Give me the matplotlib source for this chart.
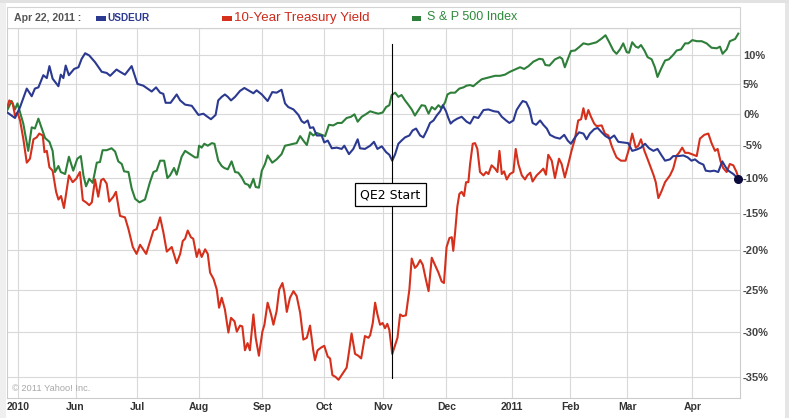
"""
USDEUR vs 10-Year Treasury Yield vs S&P 500, Apr 2010 - Apr 2011
(percent change, Yahoo-style chart with the QE2 start marked).
"""

import matplotlib
matplotlib.use("Agg")
import matplotlib.pyplot as plt
from matplotlib.patches import Rectangle
import numpy as np

# x is in trading days since the first point (Yahoo spaces by session)
month_starts = [3.8, 23.5, 44.7, 66.1, 87.8, 109.1, 129.4, 151.1, 173.6, 193.8, 213.4, 235.8]
month_labels = ["2010", "Jun", "Jul", "Aug", "Sep", "Oct", "Nov", "Dec", "2011", "Feb", "Mar", "Apr"]
pct_ticks = [10, 5, 0, -5, -10, -15, -20, -25, -30, -35]

usdeur_days = [
    0.0, 2.65, 4.4, 6.7, 8.4, 9.5, 10.7, 12.4, 13.6, 14.5,
    15.6, 17.6, 18.4, 19.3, 20.1, 21.2, 23.0, 24.5, 25.6, 26.8,
    28.2, 30.2, 32.5, 34.2, 35.4, 37.6, 38.8, 40.5, 42.8, 44.8,
    46.8, 48.5, 49.7, 51.2, 52.6, 53.7, 54.5, 56.2, 58.3, 59.5,
    61.2, 63.5, 65.8, 67.5, 68.6, 70.1, 71.7, 72.6, 73.8, 74.9,
    75.9, 77.0, 78.4, 80.1, 81.6, 83.0, 84.7, 85.8, 87.6, 89.6,
    91.2, 92.7, 94.4, 95.6, 96.7, 98.5, 100.2, 101.3, 102.2, 103.4,
    104.2, 105.3, 106.5, 108.2, 109.1, 110.3, 111.7, 113.4, 115.1, 116.0,
    117.6, 119.1, 120.6, 121.4, 123.1,
    124.9, 126.2, 127.4, 128.9, 130.4, 131.5, 132.5, 133.5, 134.6, 135.7,
    136.9, 138.4, 139.5, 140.7, 142.1, 143.2, 144.4, 145.5, 146.7, 147.8,
    149.0, 149.9, 151.0, 151.8, 152.6, 153.5, 154.9, 156.4, 158.1, 159.3,
    160.6, 162.1, 163.9, 165.6, 167.5, 169.0, 170.2, 171.7, 172.8, 174.2,
    175.3, 176.5, 177.4, 178.6, 179.7, 180.8, 182.0, 183.4, 184.5, 185.7,
    186.8,
    188.5, 190.2, 191.7, 192.9, 194.0, 195.4, 196.8, 198.3, 199.4, 200.5,
    202.0, 203.2, 204.6, 205.9, 207.4, 208.9, 210.3, 212.0, 213.7, 215.1,
    216.6, 218.1, 219.5, 220.9, 222.4, 223.8, 225.2, 226.4, 228.1, 229.2,
    231.0, 232.7, 234.2, 235.5, 236.7, 238.1, 239.6, 240.4, 241.9, 243.3,
    244.7, 246.1, 247.3, 248.2, 249.9, 251.6,
]
usdeur_pct = [
    0.2, -0.7, 1.1, 4.2, 2.9, 4.2, 4.4, 6.5, 6.0, 8.1,
    5.9, 4.6, 6.6, 6.0, 8.2, 6.5, 7.6, 7.9, 9.4, 10.4,
    10.0, 8.8, 7.1, 6.9, 6.4, 7.5, 7.1, 6.6, 8.1, 5.0,
    4.7, 4.1, 3.7, 4.4, 3.5, 3.3, 1.8, 1.8, 3.2, 2.2,
    1.5, 1.3, -0.2, 0.0, -0.4, -0.9, -0.2, 2.2, 2.8, 3.2,
    2.8, 2.2, 2.8, 3.8, 4.3, 3.9, 3.4, 3.9, 3.2, 2.1,
    3.6, 3.5, 4.0, 1.7, 1.1, 0.7, -0.2, -1.2, -1.5, -1.1,
    -2.3, -2.2, -3.5, -3.5, -4.6, -4.3, -5.5, -5.4, -5.6, -5.1,
    -6.4, -5.6, -4.1, -5.5, -5.6,
    -5.1, -4.5, -5.6, -5.2, -6.1, -6.5, -7.4, -6.4, -4.8, -4.3,
    -3.8, -3.5, -2.7, -2.4, -3.5, -3.8, -2.7, -1.5, -1.1, -0.3,
    0.4, 1.4, 0.4, -0.7, -1.6, -1.2, -0.8, -0.5, -1.3, -1.6,
    -0.5, -0.7, 0.6, 0.7, 0.4, 0.3, -0.5, -1.1, -1.5, -1.1,
    0.6, 1.5, 2.1, 1.9, 0.8, -1.5, -1.8, -1.1, -1.8, -2.4,
    -3.4,
    -3.8, -4.0, -3.4, -4.3, -4.8, -3.8, -3.0, -3.2, -4.1, -3.2,
    -2.5, -2.3, -3.0, -3.6, -4.0, -3.5, -4.5, -4.6, -4.7, -5.9,
    -5.7, -5.4, -4.8, -5.5, -5.9, -5.6, -6.6, -7.4, -7.2, -6.7,
    -6.7, -6.6, -6.9, -7.4, -7.2, -7.7, -8.0, -8.9, -9.0, -8.9,
    -9.1, -7.5, -8.4, -8.9, -9.4, -10.1,
]

treasury_days = [
    0.0, 0.7, 1.85, 2.65, 3.5, 4.4, 5.5, 6.7, 7.8, 9.0,
    10.1, 11.0, 12.2, 12.8, 13.6, 14.5, 15.6, 16.8, 17.6, 18.5,
    19.5, 21.2, 22.5, 23.7, 25.0, 26.0, 27.1, 28.2, 29.1, 30.2,
    31.3, 32.3, 33.1, 34.2, 35.1, 36.5, 37.4, 38.8, 40.5, 41.7,
    43.2, 44.5, 45.7, 47.8, 49.4, 50.3, 51.4, 52.6, 53.7, 54.9,
    56.6, 58.3, 59.5, 60.4,
    61.2, 62.1, 63.2, 64.0, 65.2, 66.0, 66.9, 68.1, 69.0, 69.8,
    71.0, 72.1, 72.9, 73.8, 74.9, 76.1, 77.0, 78.2, 79.0, 80.1,
    80.9, 81.8, 82.7, 83.5, 84.7, 85.5, 86.6, 87.8, 88.5, 89.6,
    90.8, 91.6, 92.7, 93.6, 94.7, 95.4, 96.2, 97.3, 98.5, 99.6,
    100.8, 101.9, 103.1, 104.2, 105.3, 105.9, 106.8, 108.0, 109.1, 110.3,
    111.1, 111.9, 113.0, 114.0, 115.1, 116.8, 117.6, 118.5, 119.7, 120.8,
    121.8, 123.1, 124.3,
    124.9, 125.8, 126.6, 127.4, 128.3, 129.2, 130.0, 130.8, 131.5, 132.5,
    133.5, 134.3, 135.2, 136.1, 137.2, 138.4, 139.2, 140.3, 141.1, 142.1,
    143.0, 144.1, 145.0, 146.1, 147.2, 148.4, 149.5, 150.3, 151.2, 152.2,
    153.0, 153.5, 154.1, 154.9, 155.6, 156.4, 157.2, 157.9, 158.7, 159.3,
    160.2, 161.0, 161.8, 162.7, 163.9, 164.8, 165.6, 166.7, 167.9, 168.7,
    169.4, 170.2, 171.0, 171.9, 173.0, 174.2, 175.0, 175.9, 177.1, 178.2,
    179.0, 180.0, 180.8, 182.2, 183.4, 184.5, 185.4, 186.2, 187.4,
    188.5, 189.9, 190.8, 191.9, 193.1, 194.2, 195.4, 196.5, 197.5, 198.3,
    199.1, 200.0, 200.9, 202.0, 202.8, 204.6, 205.7, 206.9, 208.0, 208.9,
    209.7, 211.2, 212.8, 214.0, 215.1, 216.3, 217.2, 218.1, 219.3, 220.6,
    222.4, 223.2, 224.1, 225.2, 226.4, 228.1, 229.2, 230.4, 231.2, 232.3,
    233.3, 234.4, 236.1, 237.3, 238.4, 239.9, 241.3, 242.4, 243.6, 244.5,
    245.5, 246.4, 247.6, 248.7, 249.9, 251.0, 251.6,
]
treasury_pct = [
    1.1, 2.2, 1.7, -0.3, 0.2, -1.1, -4.0, -7.7, -7.1, -4.1,
    -3.8, -3.2, -3.5, -6.1, -5.9, -8.4, -8.9, -12.0, -13.1, -12.6,
    -14.3, -9.6, -10.6, -10.1, -9.1, -13.2, -13.5, -13.9, -13.5, -10.2,
    -12.7, -10.3, -10.1, -10.8, -13.4, -12.7, -12.0, -15.4, -15.6, -17.2,
    -19.6, -20.5, -19.3, -20.5, -18.5, -17.4, -17.2, -15.6, -17.6, -20.2,
    -19.6, -21.7, -20.5, -18.8,
    -18.5, -17.4, -18.3, -18.5, -20.9, -19.9, -20.9, -19.9, -20.5, -22.9,
    -23.7, -25.0, -27.2, -26.0, -27.4, -30.1, -28.4, -28.8, -30.0, -29.3,
    -29.4, -32.1, -31.3, -32.1, -28.0, -30.7, -32.7, -30.0, -29.2, -26.6,
    -28.0, -29.2, -27.6, -25.0, -24.2, -25.4, -27.7, -26.0, -25.2, -25.8,
    -27.8, -30.9, -30.7, -29.3, -32.1, -33.2, -32.1, -31.8, -31.6, -32.8,
    -33.0, -34.8, -35.0, -35.3, -34.8, -34.0, -32.3, -30.2, -32.5, -32.7,
    -33.0, -30.5, -30.7,
    -30.4, -29.0, -26.6, -28.0, -29.2, -29.0, -29.6, -29.1, -29.8, -32.5,
    -31.5, -30.7, -28.0, -28.2, -28.1, -25.0, -21.1, -22.3, -22.0, -21.3,
    -21.9, -23.8, -25.2, -21.0, -21.9, -22.9, -24.0, -24.2, -19.6, -18.4,
    -18.3, -20.1, -17.8, -14.1, -12.3, -12.0, -12.6, -10.6, -10.6, -7.9,
    -4.8, -4.7, -5.6, -9.1, -9.6, -9.1, -9.4, -8.1, -8.6, -9.1,
    -5.9, -9.4, -9.0, -10.2, -9.4, -9.1, -5.6, -7.9, -9.6, -10.2,
    -9.6, -9.2, -10.5, -9.6, -9.1, -8.6, -9.5, -6.5, -7.4,
    -10.0, -7.1, -7.9, -9.9, -7.9, -5.9, -4.0, -1.1, -0.9, 0.9,
    -0.9, 0.6, -0.5, -1.6, -2.0, -1.9, -3.2, -3.5, -5.1, -6.1,
    -6.9, -7.4, -7.4, -5.6, -3.2, -5.4, -5.1, -4.1, -5.9, -7.4,
    -9.5, -10.6, -12.9, -11.9, -10.6, -9.6, -8.6, -6.6, -6.2, -5.4,
    -6.2, -6.2, -6.5, -6.7, -4.0, -3.4, -3.2, -4.7, -5.9, -5.6,
    -7.5, -8.5, -9.1, -7.9, -8.1, -9.1, -9.9,
]

sp500_days = [
    0.0, 1.5, 2.65, 3.5, 4.4, 5.5, 7.2, 8.4, 9.5, 10.7,
    11.8, 13.0, 14.5, 15.6, 16.4, 17.6, 18.4, 19.9, 21.2, 22.7,
    24.1, 25.3, 26.2, 27.1, 28.2, 29.4, 30.8, 31.9, 32.8, 34.2,
    35.9, 37.1, 38.2, 39.4, 40.2, 41.7, 42.8, 44.0, 45.5, 47.4,
    49.1, 50.3, 51.4, 52.6, 54.0, 55.1, 56.0, 57.4, 58.3, 60.0,
    61.2, 62.9, 64.6, 65.5, 66.0, 66.9, 67.8, 69.0, 70.4, 71.3,
    72.6, 73.8, 74.7, 75.9, 77.2, 78.4, 79.5, 80.7, 81.8, 83.0,
    83.5, 84.7, 85.5, 86.6, 87.6, 88.7, 89.6, 91.2, 92.7, 94.4,
    95.6, 96.7, 98.5, 99.6, 100.8, 101.9, 103.1, 104.2, 105.3, 106.5,
    108.2, 109.4, 110.7, 112.2, 113.7, 115.1, 116.8, 118.3, 119.5, 120.6,
    122.0, 123.7,
    124.9, 126.2, 127.7, 129.2, 130.4, 131.5, 132.3, 133.5, 134.6, 135.7,
    136.9, 138.0, 139.2, 140.3, 141.5, 142.6, 143.8, 145.0, 146.1, 147.2,
    148.4, 149.5, 150.7, 151.5, 152.6, 154.1, 155.6, 157.0, 158.1, 159.3,
    160.4, 161.8, 163.3, 164.8, 166.2, 167.9, 169.6, 171.3, 173.0, 174.8,
    176.5, 177.9, 179.4, 181.1, 183.1, 184.3, 185.2, 186.6,
    188.5, 190.2, 191.0, 191.9, 192.9, 194.0, 195.4, 196.8, 198.3, 200.0,
    201.4, 202.8, 204.6, 205.9, 207.1, 208.6, 209.7, 210.9, 212.0, 213.2,
    214.0, 215.1, 216.3, 217.2, 218.1, 219.3, 220.4, 221.8, 222.9, 223.8,
    225.0, 226.4, 227.7, 229.2, 230.4, 231.9, 233.3, 234.4, 235.8, 237.3,
    239.0, 240.7, 242.4, 244.2, 245.3, 246.2, 247.6, 248.7, 250.5, 251.6,
]
sp500_pct = [
    0.6, 2.1, 0.7, 1.7, 0.2, -1.6, -5.9, -2.2, -2.4, -0.8,
    -2.3, -3.9, -4.5, -5.9, -9.1, -8.2, -9.1, -9.4, -6.8, -8.9,
    -7.1, -6.7, -9.6, -11.2, -10.1, -10.7, -7.7, -7.6, -5.8, -5.8,
    -5.5, -6.0, -7.5, -7.9, -9.0, -9.1, -11.5, -13.0, -13.5, -13.1,
    -10.6, -9.1, -8.9, -7.4, -7.4, -10.0, -9.6, -8.5, -9.5, -6.8,
    -5.9, -6.4, -6.9, -6.9, -5.1, -5.4, -4.8, -5.1, -4.7, -4.8,
    -7.4, -8.2, -8.5, -8.7, -7.5, -9.1, -9.2, -9.9, -10.8, -11.0,
    -11.4, -10.1, -11.3, -11.4, -8.9, -7.9, -6.6, -7.7, -7.2, -6.4,
    -5.1, -5.0, -4.8, -4.7, -3.6, -4.3, -5.0, -3.0, -3.5, -3.1,
    -3.4, -3.6, -1.8, -1.9, -1.5, -1.5, -0.7, -0.5, -0.1, -1.3,
    -0.5, 0.0,
    0.4, 0.2, 0.0, 0.2, 1.1, 1.4, 3.1, 3.5, 2.8, 3.1,
    2.2, 1.5, 0.7, -0.3, 0.6, 1.4, 1.3, 0.0, 1.1, 0.7,
    1.4, 0.9, 1.9, 3.2, 3.5, 3.5, 4.2, 4.4, 4.7, 4.8,
    4.6, 5.2, 5.8, 6.0, 6.2, 6.4, 6.4, 6.6, 7.1, 7.5,
    7.9, 7.6, 8.1, 8.9, 9.4, 9.3, 8.3, 8.2,
    9.3, 9.7, 9.4, 7.9, 9.3, 10.8, 10.9, 11.5, 12.2, 12.0,
    12.2, 12.4, 13.1, 13.7, 12.5, 10.9, 10.3, 11.1, 12.2, 10.6,
    10.5, 12.4, 11.6, 11.4, 11.9, 10.9, 9.7, 9.3, 7.9, 6.2,
    7.6, 9.1, 9.3, 10.1, 10.9, 11.1, 12.2, 12.2, 12.8, 12.6,
    12.6, 12.2, 11.4, 11.3, 11.6, 10.3, 11.1, 12.6, 13.0, 14.0,
]

qe2_day = 132.5
qe2_span = (12.1, -35.1)
qe2_label_pct = -12.4

BLUE = "#2b3990"
RED = "#d4301c"
GREEN = "#2e7f3a"

W, H = 789, 418
plt.rcParams["font.family"] = ["Liberation Sans", "DejaVu Sans"]


def fx(px):
    return px / W


def fy(py):
    return 1 - py / H


def fwd(p):
    return np.log1p(np.asarray(p, dtype=float) / 100.0)


def inv(v):
    return np.expm1(np.asarray(v, dtype=float)) * 100.0


fig = plt.figure(figsize=(W / 100, H / 100), dpi=100, facecolor="white")

# page chrome
fig.patches.append(Rectangle((0, 0), fx(6), 1, transform=fig.transFigure,
                             fc="#efefef", ec="none", zorder=0))
fig.patches.append(Rectangle((fx(785), 0), fx(4), 1, transform=fig.transFigure,
                             fc="#e6e6e6", ec="none", zorder=0))
fig.patches.append(Rectangle((0, fy(3)), 1, fx(0) + 3 / H, transform=fig.transFigure,
                             fc="#e2e2e2", ec="none", zorder=0))
fig.patches.append(Rectangle((fx(6.7), fy(28.3)), fx(740.3 - 6.7), (28.3 - 6.7) / H,
                             transform=fig.transFigure, fc="white", ec="#d2d2d2",
                             lw=0.8, zorder=1))

ax = fig.add_axes([fx(7.3), fy(398), fx(740.3 - 7.3), (398 - 28.3) / H])
ax.set_yscale("function", functions=(fwd, inv))
ax.set_xlim(0, 252.3)
ax.set_ylim(-37.2, 15)

ax.set_yticks([15] + pct_ticks, [""] + [f"{v}%" for v in pct_ticks])
ax.set_xticks(month_starts, month_labels)
ax.yaxis.tick_right()
ax.tick_params(axis="y", length=0, pad=2, labelsize=8, labelcolor="#444444")
ax.tick_params(axis="x", length=0, pad=3, labelsize=7.5, labelcolor="#333333")
for lab in ax.get_xticklabels() + ax.get_yticklabels():
    lab.set_fontweight("bold")
ax.grid(True, color="#d9d9d9", lw=0.8)
ax.set_axisbelow(True)
for side in ax.spines.values():
    side.set_color("#cccccc")
    side.set_linewidth(0.8)

ax.plot(sp500_days, sp500_pct, color=GREEN, lw=1.5, zorder=3)
ax.plot(treasury_days, treasury_pct, color=RED, lw=1.5, zorder=4)
ax.plot(usdeur_days, usdeur_pct, color=BLUE, lw=1.5, zorder=5)
ax.plot(usdeur_days[-1], usdeur_pct[-1], "o", color="#0a0a3c", ms=5.5,
        zorder=6, clip_on=False)

# QE2 marker
ax.plot([qe2_day, qe2_day], list(qe2_span), color="black", lw=0.8, zorder=7)
ax.text(qe2_day - 0.6, qe2_label_pct, "QE2 Start", ha="center", va="center",
        fontsize=9, family="DejaVu Sans", color="black", zorder=8,
        bbox=dict(boxstyle="square,pad=0.42", fc="white", ec="black", lw=0.9))

fig.text(fx(12), fy(388.3), "\u00a9 2011 Yahoo! Inc.", fontsize=6.7,
         color="#a8a8a8", ha="left", va="center")

# header legend
fig.text(fx(14), fy(18), "Apr 22, 2011 :", fontsize=7.6, fontweight="bold",
         color="#555555", ha="left", va="center")
for x0, col in [(96, BLUE), (222, RED), (412, GREEN)]:
    fig.patches.append(Rectangle((fx(x0), fy(20.5)), fx(9.5), 4.5 / H,
                                 transform=fig.transFigure, fc=col, ec="none",
                                 zorder=2))
fig.text(fx(107), fy(18), "USDEUR", fontsize=7.2, fontweight="bold",
         color=BLUE, ha="left", va="center")
fig.text(fx(234), fy(17.5), "10-Year Treasury Yield", fontsize=9.6,
         color="#cc2a1a", ha="left", va="center")
fig.text(fx(427), fy(17.5), "S & P 500 Index", fontsize=9,
         color="#2f8a3c", ha="left", va="center")

fig.savefig("out.png", dpi=100)
plt.close(fig)
